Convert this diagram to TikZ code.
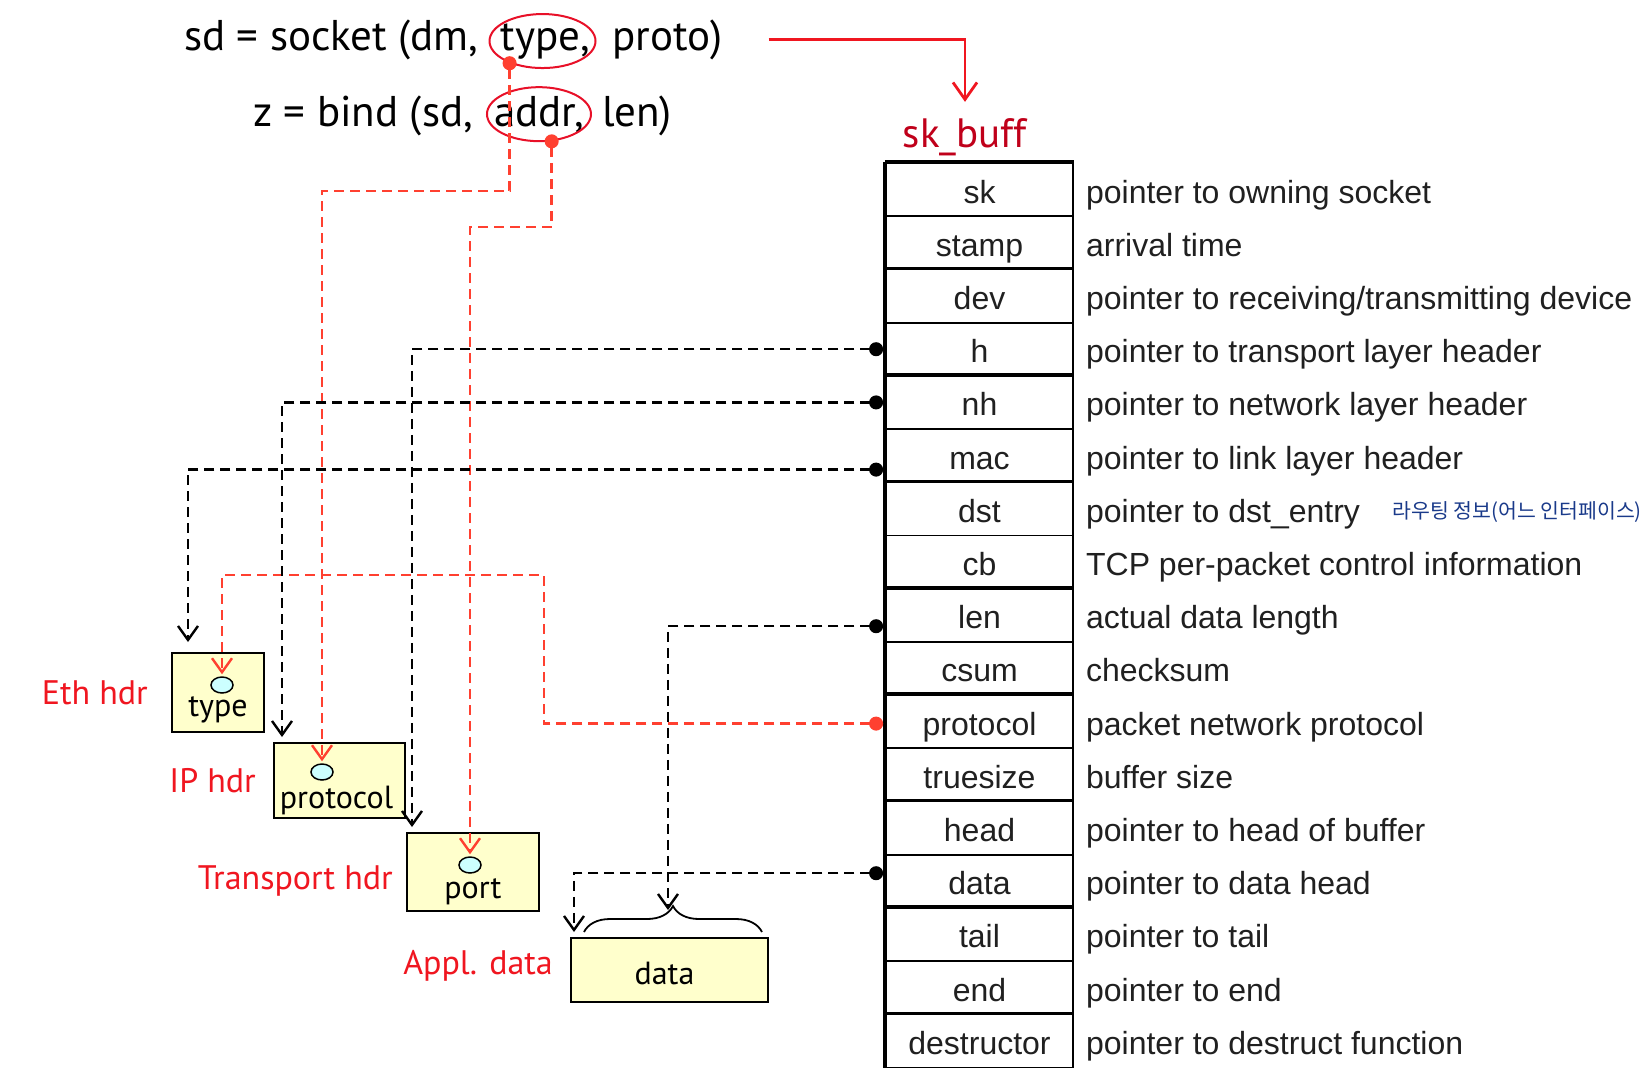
\documentclass[tikz,border=0pt]{standalone}
\usepackage{fontspec}
\usetikzlibrary{positioning,arrows.meta,shapes.geometric,decorations.pathreplacing}
\newfontfamily\gillfont{PT Sans}
\newfontfamily\arialfont{Liberation Sans}
\newfontfamily\korfont{Noto Sans CJK KR}
\definecolor{hdrred}{RGB}{240,22,32}
\definecolor{ptrred}{RGB}{255,64,48}
\definecolor{ringred}{RGB}{232,16,40}
\definecolor{bufred}{RGB}{192,0,26}
\definecolor{boxyellow}{RGB}{255,255,204}
\definecolor{fldcyan}{RGB}{204,255,255}
\definecolor{notenavy}{RGB}{26,58,138}
\definecolor{tabtext}{RGB}{32,32,32}

\begin{document}
\begin{tikzpicture}[x=1pt,y=-1pt,
    formula/.style={font=\gillfont\fontsize{43}{50}\selectfont,inner sep=0pt,anchor=base west},
    ring/.style={draw=ringred,line width=2pt,ellipse,minimum width=106pt,minimum height=54pt},
    field/.style={draw,line width=1.8pt,minimum width=187pt,minimum height=53.2pt,inner sep=0pt,
      text height=30pt,text depth=3pt,font=\arialfont\fontsize{32}{36}\selectfont,text=tabtext},
    desc/.style={inner sep=0pt,text height=30pt,text depth=3pt,font=\arialfont\fontsize{32}{36}\selectfont,text=tabtext},
    note/.style={inner sep=0pt,font=\korfont\fontsize{20.5}{24}\selectfont,text=notenavy},
    hdrbox/.style={draw,line width=2pt,fill=boxyellow,inner sep=0pt},
    boxword/.style={font=\gillfont\fontsize{32}{38}\selectfont,anchor=base,inner sep=0pt},
    fld/.style={draw,ellipse,line width=1.5pt,fill=fldcyan,minimum width=22pt,minimum height=16pt,inner sep=0pt},
    hdrlabel/.style={font=\gillfont\fontsize{34}{40}\selectfont,text=hdrred,inner sep=0pt},
    blkptr/.style={draw=black,line width=2.4pt,dash pattern=on 10pt off 6pt,{Circle[length=14pt]}-{Straight Barb[length=14pt,width=20pt]}},
    redptr/.style={draw=ptrred,line width=2.4pt,dash pattern=on 10pt off 6pt,{Circle[length=14pt]}-{Straight Barb[length=14pt,width=20pt]}},
    skarrow/.style={draw=hdrred,line width=2.8pt,-{Straight Barb[length=17pt,width=24pt]}}]
  \fill[white] (0,0) rectangle (1652,1072);
  \useasboundingbox (0,0) rectangle (1652,1072);

  \node[formula] (sock) at (184,50) {sd = socket (dm,};
  \node[formula] (typew) at ([xshift=22pt]sock.base east) {type,};
  \node[formula] (proto) at ([xshift=22pt]typew.base east) {proto)};
  \node[formula] (bind) at (253,126) {z = bind (sd,};
  \node[formula] (addrw) at ([xshift=21pt]bind.base east) {addr,};
  \node[formula] (lenw) at ([xshift=18pt]addrw.base east) {len)};
  \node[ring] (typering) at ([xshift=-3pt]typew.center) {};
  \node[ring,minimum width=104pt] (addrring) at (addrw.center) {};

  \node[font=\gillfont\fontsize{41}{48}\selectfont,text=bufred,inner sep=0pt,anchor=base] (skbuff) at (965,147) {sk\_buff};

  \foreach \fld/\txt [count=\i] in {sk/pointer to owning socket,stamp/arrival time,
      dev/{pointer to receiving/transmitting device},h/pointer to transport layer header,
      nh/pointer to network layer header,mac/pointer to link layer header,
      dst/pointer to dst\_entry,cb/TCP per-packet control information,
      len/actual data length,csum/checksum,protocol/packet network protocol,
      truesize/buffer size,head/pointer to head of buffer,data/pointer to data head,
      tail/pointer to tail,end/pointer to end,destructor/pointer to destruct function}{
    \node[field] (\fld) at (979.5,{163+(\i-0.5)*53.2}) {\fld};
    \node[desc,right=12pt of \fld] (d-\fld) {\txt};
  }
  \foreach \fld in {sk,dev,nh,dst,len,protocol,head,tail,destructor}
    \draw[line width=3.5pt] (\fld.north west) -- (\fld.north east);
  \draw[line width=3.5pt] (sk.north west) -- (destructor.south west);
  \node[note,right=32pt of d-dst,yshift=-3pt] (dstnote) {라우팅 정보(어느 인터페이스)};

  \node[hdrbox,minimum width=92pt,minimum height=79pt] (ethhdr) at (218,692.5) {};
  \node[hdrbox,minimum width=131pt,minimum height=75pt] (iphdr) at (339.5,780.5) {};
  \node[hdrbox,minimum width=132pt,minimum height=78pt] (tphdr) at (473,872) {};
  \node[hdrbox,minimum width=197pt,minimum height=64pt] (appldata) at (669.5,970) {};
  \node[boxword] (ethtxt) at ([yshift=17pt]ethhdr.south) {type};
  \node[boxword] (iptxt) at ([xshift=-3pt,yshift=11pt]iphdr.south) {protocol};
  \node[boxword] (tptxt) at ([yshift=14pt]tphdr.south) {port};
  \node[boxword] (datatxt) at ([xshift=-5pt,yshift=19pt]appldata.south) {data};
  \node[fld] (ethfld) at ([xshift=4pt,yshift=-33pt]ethhdr.north) {};
  \node[fld] (ipfld) at ([xshift=-17.5pt,yshift=-30pt]iphdr.north) {};
  \node[fld] (tpfld) at ([xshift=-3pt,yshift=-33pt]tphdr.north) {};
  \draw[decorate,decoration={brace,amplitude=26pt},line width=1.8pt]
    ([xshift=14pt,yshift=5pt]appldata.north west) -- ([xshift=-7pt,yshift=5pt]appldata.north east);

  \node[hdrlabel,left=23pt of ethhdr] (ethlbl) {Eth hdr};
  \node[hdrlabel,left=17pt of iphdr] (iplbl) {IP hdr};
  \node[hdrlabel,left=13pt of tphdr,yshift=-9pt] (tplbl) {Transport hdr};
  \node[hdrlabel,left=17pt of appldata,yshift=4pt] (appllbl) {Appl. data};

  \draw[skarrow] ([xshift=46pt]proto.east) -| ([yshift=16pt]skbuff.north);
  \draw[redptr] ([yshift=7pt]typering.214) |- (ipfld.north |- 0,191) -- ([yshift=2pt]ipfld.north);
  \draw[redptr] ([yshift=7pt]addrring.295) |- (tpfld.north |- 0,227) -- ([yshift=2pt]tpfld.north);
  \draw[redptr] ([xshift=-2pt,yshift=-2pt]protocol.west) -| (544,575) -| ([yshift=2pt]ethfld.north);
  \draw[blkptr] ([xshift=-2pt]h.west) -| ([xshift=6pt,yshift=5pt]tphdr.north west);
  \draw[blkptr] ([xshift=-2pt]nh.west) -| ([xshift=9pt,yshift=5pt]iphdr.north west);
  \draw[blkptr] ([xshift=-2pt,yshift=-14pt]mac.west) -| ([xshift=17pt,yshift=10pt]ethhdr.north west);
  \draw[blkptr] ([xshift=-2pt,yshift=-11pt]len.west) -| ([xshift=-1.5pt,yshift=27pt]appldata.north);
  \draw[blkptr] ([xshift=-2pt,yshift=8pt]data.west) -| ([xshift=4pt,yshift=5pt]appldata.north west);
\end{tikzpicture}
\end{document}
